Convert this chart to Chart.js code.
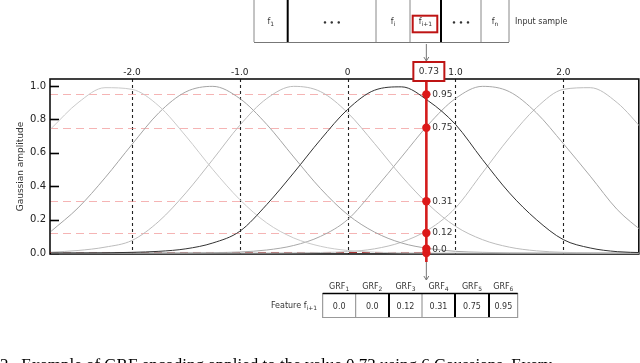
<!DOCTYPE html>
<html>
<head>
<meta charset="utf-8">
<script src="https://cdn.jsdelivr.net/npm/chart.js@4.4.1/dist/chart.umd.min.js"></script>
<style>
  html, body { margin: 0; padding: 0; background: #fff; }
  #wrap { position: relative; width: 640px; height: 363px; overflow: hidden; }
  canvas { position: absolute; left: 0; top: 0; }
</style>
</head>
<body>
<div id="wrap"><canvas id="grf" width="643" height="363"></canvas></div>
<script>
// sample positions along the input axis
var xs = [-2.75, -2.5, -2.25, -2.0, -1.75, -1.5, -1.25, -1.0, -0.75, -0.5, -0.25, 0,
          0.25, 0.5, 0.75, 1.0, 1.25, 1.5, 1.75, 2.0, 2.25, 2.5, 2.75];

// gaussian receptive fields
var grf1 = [0.745, 0.90, 0.99, 0.98, 0.88, 0.70, 0.50, 0.32, 0.18, 0.09, 0.04, 0.015,
            0.005, 0.001, 0, 0, 0, 0, 0, 0, 0, 0, 0];
var grf2 = [0.13, 0.27, 0.45, 0.65, 0.84, 0.965, 0.998, 0.925, 0.77, 0.575, 0.385, 0.23,
            0.125, 0.06, 0.027, 0.01, 0.004, 0.001, 0, 0, 0, 0, 0];
var grf3 = [0.005, 0.015, 0.035, 0.075, 0.19, 0.36, 0.56, 0.765, 0.925, 0.998, 0.966, 0.84,
            0.655, 0.46, 0.29, 0.16, 0.08, 0.035, 0.013, 0.004, 0.001, 0, 0];
var grf4 = [0, 0, 0.001, 0.004, 0.01, 0.025, 0.06, 0.13, 0.29, 0.48, 0.68, 0.86,
            0.975, 0.995, 0.91, 0.77, 0.56, 0.36, 0.2, 0.08, 0.03, 0.008, 0.002];
var grf5 = [0, 0, 0, 0, 0, 0, 0.002, 0.006, 0.018, 0.045, 0.10, 0.20,
            0.38, 0.575, 0.77, 0.925, 0.998, 0.966, 0.84, 0.655, 0.46, 0.26, 0.12];
var grf6 = [0, 0, 0, 0, 0, 0, 0, 0, 0, 0.001, 0.003, 0.008,
            0.025, 0.065, 0.14, 0.27, 0.48, 0.69, 0.87, 0.98, 0.99, 0.90, 0.73];
var grfColors = ['#cacaca', '#a4a4a4', '#bcbcbc', '#333333', '#a8a8a8', '#bdbdbd'];

var xTicks = [-2, -1, 0, 1, 2];
var xTickLabels = ['-2.0', '-1.0', '0', '1.0', '2.0'];
var yTicks = [0, 0.2, 0.4, 0.6, 0.8, 1.0];

var inputValue = 0.73;
var dotValues = [0.0, 0.025, 0.12, 0.31, 0.75, 0.95];
var levelValues = [0.95, 0.75, 0.31, 0.12, 0.0];
var levelLabels = ['0.95', '0.75', '0.31', '0.12', '0.0'];

var inputCells = [['f', '1'], ['\u2022 \u2022 \u2022', ''], ['f', 'i'], ['f', 'i+1'], ['\u2022 \u2022 \u2022', ''], ['f', 'n']];
var grfNames = ['1', '2', '3', '4', '5', '6'];
var grfValues = ['0.0', '0.0', '0.12', '0.31', '0.75', '0.95'];

var caption = '2.  Example of GRF encoding applied to the value 0.73 using 6 Gaussians. Every';

Chart.defaults.font.family = '"DejaVu Sans", sans-serif';
Chart.defaults.color = '#333';

function subText(ctx, x, y, base, sub, size, align) {
  ctx.font = size + 'px "DejaVu Sans"';
  var w1 = ctx.measureText(base).width;
  ctx.font = (size - 2) + 'px "DejaVu Sans"';
  var w2 = sub ? ctx.measureText(sub).width : 0;
  var total = w1 + w2;
  var start = align === 'right' ? x - total : (align === 'left' ? x : x - total / 2);
  ctx.textAlign = 'left';
  ctx.textBaseline = 'middle';
  ctx.font = size + 'px "DejaVu Sans"';
  ctx.fillText(base, start, y);
  if (sub) {
    ctx.font = (size - 2) + 'px "DejaVu Sans"';
    ctx.fillText(sub, start + w1, y + 2.5);
  }
}

function arrowDown(ctx, x, y1, y2) {
  ctx.strokeStyle = '#777';
  ctx.lineWidth = 1;
  ctx.beginPath();
  ctx.moveTo(x, y1);
  ctx.lineTo(x, y2);
  ctx.moveTo(x - 2.5, y2 - 4);
  ctx.lineTo(x, y2);
  ctx.lineTo(x + 2.5, y2 - 4);
  ctx.stroke();
}

function vline(ctx, x, y1, y2, thick) {
  ctx.strokeStyle = thick ? '#000' : '#888';
  ctx.lineWidth = thick ? 2 : 1;
  ctx.beginPath();
  ctx.moveTo(x, y1);
  ctx.lineTo(x, y2);
  ctx.stroke();
}

var decor = {
  id: 'decor',
  beforeDatasetsDraw: function (chart) {
    var ctx = chart.ctx, a = chart.chartArea;
    var sx = chart.scales.x, sy = chart.scales.y;
    var xLine = sx.getPixelForValue(inputValue);
    ctx.save();
    // dashed verticals at the x ticks
    ctx.setLineDash([3, 3]);
    ctx.strokeStyle = '#222';
    ctx.lineWidth = 1.1;
    xTicks.forEach(function (v) {
      var px = Math.round(sx.getPixelForValue(v)) + 0.5;
      ctx.beginPath();
      ctx.moveTo(px, a.top);
      ctx.lineTo(px, a.bottom);
      ctx.stroke();
    });
    // pink level lines up to the input
    ctx.setLineDash([8, 5]);
    ctx.lineWidth = 1;
    levelValues.forEach(function (v) {
      if (v === 0) return;
      var py = Math.round(sy.getPixelForValue(v)) + 0.5;
      ctx.strokeStyle = 'rgba(240,140,140,0.65)';
      ctx.beginPath();
      ctx.moveTo(a.left, py);
      ctx.lineTo(xLine, py);
      ctx.stroke();
    });
    ctx.setLineDash([]);
    // frame
    ctx.strokeStyle = '#111';
    ctx.lineWidth = 1.6;
    ctx.strokeRect(a.left, a.top, a.right - a.left, a.bottom - a.top);
    // zero level, dark red dashes over the frame
    ctx.setLineDash([8, 5]);
    ctx.strokeStyle = '#a83232';
    ctx.lineWidth = 1;
    var p0 = sy.getPixelForValue(0) - 0.5;
    ctx.beginPath();
    ctx.moveTo(a.left, p0);
    ctx.lineTo(xLine, p0);
    ctx.stroke();
    ctx.setLineDash([]);
    // inner ticks on the left
    ctx.strokeStyle = '#000';
    ctx.lineWidth = 1.6;
    yTicks.forEach(function (v) {
      var py = Math.round(sy.getPixelForValue(v)) + 0.5;
      ctx.beginPath();
      ctx.moveTo(a.left, py);
      ctx.lineTo(a.left + 9, py);
      ctx.stroke();
    });
    ctx.restore();
  },
  beforeDatasetDraw: function (chart, args) {
    if (args.index !== 6) return;
    var ctx = chart.ctx;
    var xLine = chart.scales.x.getPixelForValue(inputValue);
    ctx.save();
    ctx.strokeStyle = 'rgb(212,28,28)';
    ctx.lineWidth = 2.6;
    ctx.beginPath();
    ctx.moveTo(xLine, 81);
    ctx.lineTo(xLine, 262);
    ctx.stroke();
    ctx.restore();
  },
  afterDraw: function (chart) {
    var ctx = chart.ctx;
    var sy = chart.scales.y;
    var xLine = chart.scales.x.getPixelForValue(inputValue);
    ctx.save();
    ctx.fillStyle = '#333';

    // values next to the dots
    ctx.font = '9px "DejaVu Sans"';
    ctx.textAlign = 'left';
    ctx.textBaseline = 'middle';
    levelValues.forEach(function (v, i) {
      var py = sy.getPixelForValue(v) - (v === 0 ? 3 : 0);
      ctx.fillText(levelLabels[i], xLine + 6, py);
    });

    // input value box
    ctx.fillStyle = '#fff';
    ctx.fillRect(xLine - 13, 62, 31, 19);
    ctx.strokeStyle = 'rgb(190,20,20)';
    ctx.lineWidth = 2;
    ctx.strokeRect(xLine - 13, 62, 31, 19);
    ctx.fillStyle = '#333';
    ctx.textAlign = 'center';
    ctx.fillText(inputValue.toFixed(2), xLine + 2.5, 71.5);

    // input sample row
    var rowX = [254, 287.7, 376, 410, 441, 481, 509];
    var rowThick = [false, true, false, false, true, false, false];
    rowX.forEach(function (x, i) { vline(ctx, x, 0, 42, rowThick[i]); });
    ctx.strokeStyle = '#777';
    ctx.lineWidth = 1;
    ctx.beginPath();
    ctx.moveTo(254, 42.5);
    ctx.lineTo(509, 42.5);
    ctx.stroke();
    ctx.fillStyle = '#333';
    inputCells.forEach(function (c, i) {
      var cx = (rowX[i] + rowX[i + 1]) / 2;
      if (c[1]) subText(ctx, cx, 22, c[0], c[1], 8);
      else {
        ctx.font = 'bold 7px "DejaVu Sans"';
        ctx.textAlign = 'center';
        ctx.textBaseline = 'middle';
        ctx.fillText(c[0], cx, 23);
      }
    });
    ctx.strokeStyle = 'rgb(190,20,20)';
    ctx.lineWidth = 2;
    ctx.strokeRect(412.7, 15.7, 24.6, 16.6);
    ctx.font = '8px "DejaVu Sans"';
    ctx.textAlign = 'left';
    ctx.textBaseline = 'middle';
    ctx.fillText('Input sample', 515, 22);

    // arrows
    arrowDown(ctx, xLine, 44, 61);
    arrowDown(ctx, xLine, 262, 280);

    // feature table
    var colX = [322.7, 355.7, 389, 422, 455, 489, 517.7];
    var colThick = [false, false, true, false, true, true, false];
    ctx.fillStyle = '#333';
    grfNames.forEach(function (n, i) {
      var cx = (colX[i] + colX[i + 1]) / 2;
      subText(ctx, cx, 287, 'GRF', n, 8);
      ctx.font = '8px "DejaVu Sans"';
      ctx.textAlign = 'center';
      ctx.textBaseline = 'middle';
      ctx.fillText(grfValues[i], cx, 307);
    });
    colX.forEach(function (x, i) { vline(ctx, x, 293, 318, colThick[i]); });
    ctx.strokeStyle = '#000';
    ctx.lineWidth = 1.6;
    ctx.beginPath();
    ctx.moveTo(322.7, 293.5);
    ctx.lineTo(517.7, 293.5);
    ctx.stroke();
    ctx.strokeStyle = '#999';
    ctx.lineWidth = 1;
    ctx.beginPath();
    ctx.moveTo(322.7, 317.5);
    ctx.lineTo(517.7, 317.5);
    ctx.stroke();
    subText(ctx, 317, 306, 'Feature f', 'i+1', 8, 'right');

    // caption, cut by the bottom edge
    ctx.fillStyle = '#000';
    ctx.font = '17px "Liberation Serif"';
    ctx.textAlign = 'left';
    ctx.textBaseline = 'alphabetic';
    ctx.fillText(caption, 0, 370);
    ctx.restore();
  }
};

function series(arr) {
  return xs.map(function (x, i) { return { x: x, y: arr[i] }; });
}

var curves = [grf1, grf2, grf3, grf4, grf5, grf6];
var datasets = curves.map(function (arr, i) {
  return {
    type: 'line',
    data: series(arr),
    borderColor: grfColors[i],
    borderWidth: 1,
    pointRadius: 0,
    cubicInterpolationMode: 'monotone',
    fill: false,
    order: i === 3 ? -0.5 : 0
  };
});
datasets.push({
  type: 'scatter',
  data: dotValues.map(function (v) { return { x: inputValue, y: v }; }),
  backgroundColor: 'rgb(220,25,25)',
  borderWidth: 0,
  pointRadius: 4.2,
  clip: false,
  order: -1
});

new Chart(document.getElementById('grf'), {
  type: 'line',
  data: { datasets: datasets },
  options: {
    responsive: false,
    animation: false,
    devicePixelRatio: 1,
    layout: { padding: { left: 0, right: 1, top: 0, bottom: 109 } },
    plugins: { legend: { display: false }, tooltip: { enabled: false } },
    scales: {
      x: {
        type: 'linear',
        position: 'top',
        min: -2.76,
        max: 2.70,
        afterBuildTicks: function (s) { s.ticks = xTicks.map(function (v) { return { value: v }; }); },
        afterFit: function (s) { s.height = 79; s.paddingLeft = 0; s.paddingRight = 0; },
        grid: { display: false, drawTicks: false },
        border: { display: false },
        ticks: {
          padding: 1,
          font: { size: 9 },
          color: '#222',
          callback: function (v) { return xTickLabels[xTicks.indexOf(v)]; }
        }
      },
      y: {
        type: 'linear',
        min: -0.006,
        max: 1.042,
        afterBuildTicks: function (s) { s.ticks = yTicks.map(function (v) { return { value: v }; }); },
        afterFit: function (s) { s.width = 50; s.paddingTop = 0; s.paddingBottom = 0; },
        grid: { display: false, drawTicks: false },
        border: { display: false },
        ticks: {
          padding: 4,
          font: { size: 10 },
          color: '#222',
          callback: function (v) { return v.toFixed(1); }
        },
        title: {
          display: true,
          text: 'Gaussian amplitude',
          font: { size: 9 },
          color: '#333',
          padding: { top: 15, bottom: 0 }
        }
      }
    }
  },
  plugins: [decor]
});
</script>
</body>
</html>
